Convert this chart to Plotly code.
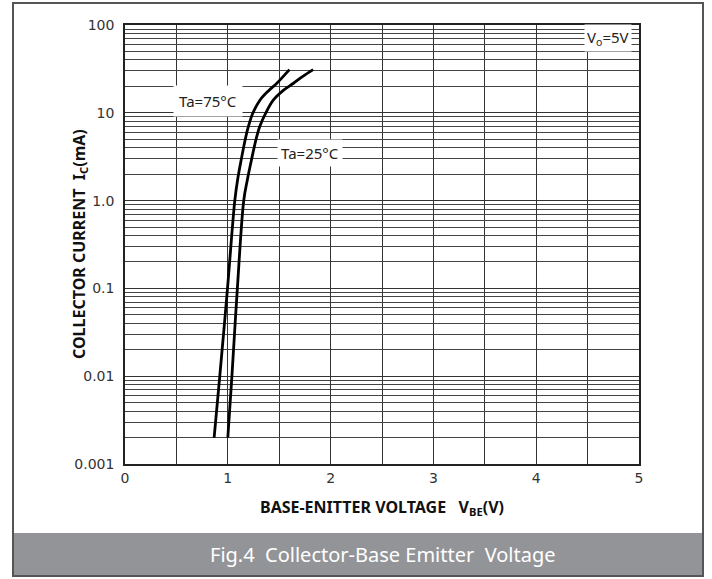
import plotly.graph_objects as go

# ---- data ----
vbe_75 = [0.867, 0.922, 0.997, 1.068, 1.095, 1.13, 1.17, 1.20, 1.245, 1.314, 1.40, 1.477, 1.54, 1.60]
ic_75 = [0.002, 0.01, 0.1, 1.0, 1.72, 2.9, 5.0, 6.95, 10.0, 14.0, 18.0, 21.7, 26.0, 31.0]
vbe_25 = [1.00, 1.04, 1.093, 1.155, 1.19, 1.23, 1.275, 1.31, 1.37, 1.444, 1.54, 1.639, 1.73, 1.83]
ic_25 = [0.002, 0.01, 0.1, 1.0, 1.72, 2.9, 5.0, 6.95, 10.0, 14.0, 18.0, 21.7, 26.0, 31.0]

y_tickvals = [0.001, 0.01, 0.1, 1, 10, 100]
y_ticktext = ["0.001", "0.01", "0.1", "1.0", "10", "100"]
x_tickvals = [0, 1, 2, 3, 4, 5]

# plot area in pixels
W, H = 712, 579
L, R, T, B = 125, 639, 25, 464


def px(xp):
    return (xp - L) / (R - L)


def py(yp):
    return (B - yp) / (B - T)


fig = go.Figure()
for xs, ys in [(vbe_75, ic_75), (vbe_25, ic_25)]:
    fig.add_trace(go.Scatter(x=xs, y=ys, mode="lines",
                             line=dict(color="black", width=2.8, shape="spline", smoothing=1.0),
                             showlegend=False, hoverinfo="skip"))

minor_y = [m * 10 ** e for e in range(-3, 2) for m in range(2, 10)]
grid_c = "#333"

fig.update_layout(
    width=W, height=H,
    margin=dict(l=L, r=W - R, t=T, b=H - B),
    paper_bgcolor="white", plot_bgcolor="white",
    font=dict(family="DejaVu Sans", size=14, color="#333"),
    xaxis=dict(range=[0, 5], tickvals=x_tickvals, ticks="", showgrid=True,
               gridcolor=grid_c, gridwidth=1.3, zeroline=False,
               showline=True, linecolor="#222", linewidth=1.5, mirror=True,
               minor=dict(dtick=0.5, showgrid=True, gridcolor=grid_c, gridwidth=1.3, ticks=""),
               tickfont=dict(size=14, color="#333")),
    yaxis=dict(type="log", range=[-3, 2], tickvals=y_tickvals, ticktext=y_ticktext,
               ticks="", showgrid=True, gridcolor=grid_c, gridwidth=1.3, zeroline=False,
               showline=True, linecolor="#222", linewidth=1.5, mirror=True,
               ticklabelstandoff=6,
               minor=dict(tickvals=minor_y, showgrid=True, gridcolor="#444", gridwidth=1.1, ticks=""),
               tickfont=dict(size=14, color="#333")),
)

# outer border and caption band
fig.add_shape(type="rect", xref="paper", yref="paper",
              x0=px(13), x1=px(703), y0=py(576), y1=py(3),
              line=dict(color="#555", width=2), fillcolor="rgba(0,0,0,0)", layer="above")
fig.add_shape(type="rect", xref="paper", yref="paper",
              x0=px(13), x1=px(703), y0=py(576), y1=py(533),
              line=dict(width=0), fillcolor="#939498", layer="below")

ann_font = dict(family="Noto Sans", size=15, color="#222")
fig.add_annotation(x=0.81, y=1.134, xref="x", yref="y", text="Ta=75°C", showarrow=False,
                   font=ann_font, bgcolor="white", borderpad=5, xanchor="center", yanchor="middle")
fig.add_annotation(x=1.80, y=0.542, xref="x", yref="y", text="Ta=25°C", showarrow=False,
                   font=ann_font, bgcolor="white", borderpad=3, xanchor="center", yanchor="middle")
fig.add_annotation(x=4.70, y=1.85, xref="x", yref="y", text="V<sub>o</sub>=5V", showarrow=False,
                   font=ann_font, bgcolor="white", borderpad=2, xanchor="center", yanchor="middle")

title_font = dict(family="Noto Sans", size=16, color="#111", weight="bold")
fig.add_annotation(x=px(80), y=py(244), xref="paper", yref="paper", textangle=-90,
                   text="<b>COLLECTOR CURRENT\u00a0\u00a0I<sub>C</sub>(mA)</b>", showarrow=False,
                   font=title_font, xanchor="center", yanchor="middle")
fig.add_annotation(x=px(382), y=py(508), xref="paper", yref="paper",
                   text="<b>BASE-ENITTER VOLTAGE\u00a0\u00a0\u00a0V<sub>BE</sub>(V)</b>", showarrow=False,
                   font=title_font, xanchor="center", yanchor="middle")
fig.add_annotation(x=px(383), y=py(554), xref="paper", yref="paper",
                   text="Fig.4\u00a0\u00a0Collector-Base Emitter\u00a0\u00a0Voltage", showarrow=False,
                   font=dict(family="Noto Sans", size=20, color="white"),
                   xanchor="center", yanchor="middle")

fig.write_html("out.html")
